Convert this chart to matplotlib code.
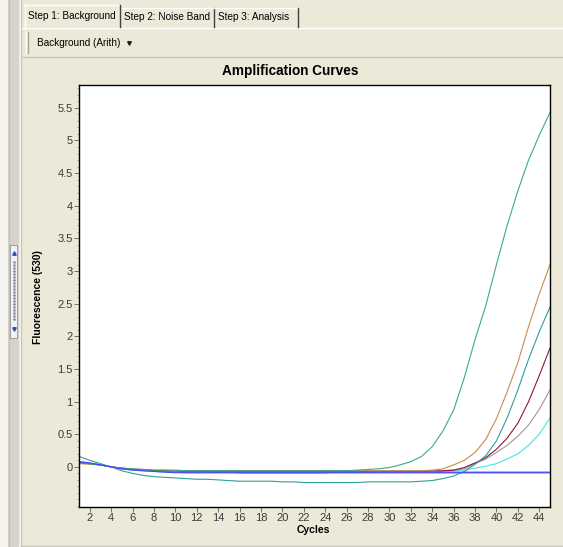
import matplotlib
matplotlib.use("Agg")
import matplotlib.pyplot as plt
from matplotlib.patches import Rectangle
from matplotlib.lines import Line2D

plt.rcParams['font.family'] = ['Liberation Sans', 'DejaVu Sans']

# ---------------- data ----------------
cycles = list(range(1, 46))

curve_a = [0.07, 0.05, 0.03, 0.00, -0.02, -0.03, -0.04, -0.05, -0.05, -0.05,
           -0.06, -0.06, -0.06, -0.06, -0.06, -0.06, -0.06, -0.06, -0.06, -0.06,
           -0.06, -0.06, -0.06, -0.06, -0.06, -0.06, -0.05, -0.04, -0.03, -0.01,
           0.03, 0.08, 0.16, 0.31, 0.55, 0.87, 1.37, 1.95, 2.47, 3.10,
           3.70, 4.23, 4.70, 5.08, 5.43]
curve_b = [0.16, 0.10, 0.05, 0.00, -0.06, -0.10, -0.13, -0.15, -0.16, -0.17,
           -0.18, -0.19, -0.19, -0.20, -0.21, -0.22, -0.22, -0.22, -0.22, -0.23,
           -0.23, -0.24, -0.24, -0.24, -0.24, -0.24, -0.24, -0.23, -0.23, -0.23,
           -0.23, -0.23, -0.22, -0.21, -0.18, -0.14, -0.07, 0.04, 0.17, 0.40,
           0.75, 1.18, 1.65, 2.07, 2.45]
curve_c = [0.05, 0.04, 0.03, 0.00, -0.02, -0.03, -0.04, -0.05, -0.05, -0.06,
           -0.06, -0.06, -0.06, -0.06, -0.06, -0.06, -0.06, -0.06, -0.06, -0.06,
           -0.06, -0.06, -0.06, -0.06, -0.06, -0.06, -0.06, -0.06, -0.06, -0.06,
           -0.06, -0.06, -0.06, -0.05, -0.03, 0.03, 0.10, 0.22, 0.42, 0.74,
           1.15, 1.60, 2.15, 2.65, 3.10]
curve_e = [0.06, 0.05, 0.03, 0.00, -0.02, -0.04, -0.05, -0.06, -0.06, -0.07,
           -0.07, -0.07, -0.07, -0.08, -0.08, -0.09, -0.09, -0.09, -0.09, -0.09,
           -0.09, -0.09, -0.09, -0.09, -0.08, -0.08, -0.08, -0.08, -0.07, -0.07,
           -0.07, -0.07, -0.07, -0.07, -0.06, -0.05, -0.01, 0.06, 0.14, 0.27,
           0.44, 0.67, 1.00, 1.40, 1.82]
curve_g = [0.06, 0.05, 0.03, 0.00, -0.02, -0.04, -0.05, -0.06, -0.06, -0.06,
           -0.07, -0.07, -0.07, -0.07, -0.07, -0.07, -0.07, -0.07, -0.07, -0.07,
           -0.07, -0.07, -0.07, -0.07, -0.07, -0.07, -0.07, -0.07, -0.07, -0.07,
           -0.07, -0.07, -0.07, -0.06, -0.06, -0.05, -0.03, 0.05, 0.12, 0.22,
           0.33, 0.47, 0.64, 0.88, 1.18]
curve_f = [0.06, 0.05, 0.03, 0.00, -0.02, -0.04, -0.05, -0.06, -0.07, -0.07,
           -0.07, -0.07, -0.07, -0.07, -0.07, -0.07, -0.07, -0.07, -0.07, -0.07,
           -0.07, -0.07, -0.07, -0.07, -0.07, -0.07, -0.07, -0.07, -0.07, -0.07,
           -0.07, -0.07, -0.07, -0.07, -0.07, -0.06, -0.05, -0.02, 0.01, 0.05,
           0.12, 0.20, 0.33, 0.50, 0.75]
flat_green = [0.07, 0.05, 0.03, 0.00, -0.03, -0.04, -0.05, -0.06, -0.07, -0.07,
              -0.07, -0.07, -0.07, -0.07, -0.07, -0.07, -0.07, -0.07, -0.07, -0.07,
              -0.07, -0.07, -0.07, -0.07, -0.07, -0.07, -0.07, -0.07, -0.07, -0.07,
              -0.07, -0.07, -0.07, -0.07, -0.08, -0.08, -0.08, -0.08, -0.08, -0.08,
              -0.08, -0.08, -0.08, -0.08, -0.08]
flat_purple = [0.08, 0.06, 0.03, 0.00, -0.03, -0.05, -0.06, -0.07, -0.08, -0.08,
               -0.09, -0.09, -0.09, -0.09, -0.09, -0.09, -0.09, -0.09, -0.09, -0.09,
               -0.09, -0.09, -0.09, -0.09, -0.09, -0.09, -0.09, -0.09, -0.09, -0.09,
               -0.09, -0.09, -0.09, -0.09, -0.09, -0.09, -0.09, -0.09, -0.09, -0.09,
               -0.09, -0.09, -0.09, -0.09, -0.09]
flat_blue = [0.08, 0.06, 0.03, 0.00, -0.03, -0.05, -0.06, -0.07, -0.08, -0.09,
             -0.09, -0.09, -0.09, -0.09, -0.09, -0.09, -0.09, -0.09, -0.09, -0.09,
             -0.09, -0.09, -0.09, -0.09, -0.09, -0.09, -0.09, -0.09, -0.09, -0.09,
             -0.09, -0.09, -0.09, -0.09, -0.09, -0.09, -0.09, -0.09, -0.09, -0.09,
             -0.09, -0.09, -0.09, -0.09, -0.09]

series = [
    (curve_f, '#40e6e6'),
    (curve_g, '#a89098'),
    (curve_e, '#8a1838'),
    (curve_c, '#c88a4e'),
    (curve_b, '#2f9f9c'),
    (curve_a, '#3aa896'),
    (flat_green, '#20a040'),
    (flat_purple, '#9a6cff'),
    (flat_blue, '#4646ff'),
]

y_ticks = [0, 0.5, 1, 1.5, 2, 2.5, 3, 3.5, 4, 4.5, 5, 5.5]
y_tick_labels = ['0', '0.5', '1', '1.5', '2', '2.5', '3', '3.5', '4', '4.5', '5', '5.5']
x_ticks = list(range(2, 45, 2))
x_tick_labels = [str(t) for t in x_ticks]

W, H = 563, 547
BG = '#ECE9D8'

fig = plt.figure(figsize=(W / 100, H / 100), dpi=100, facecolor=BG)

# ---------------- UI chrome ----------------
ui = fig.add_axes([0, 0, 1, 1], zorder=0)
ui.set_xlim(0, W)
ui.set_ylim(H, 0)
ui.axis('off')

def rect(x0, y0, w, h, fc, ec='none', lw=1.0, z=1):
    ui.add_patch(Rectangle((x0, y0), w, h, facecolor=fc, edgecolor=ec, linewidth=lw, zorder=z))

def line(xs, ys, c, lw=1.0, z=2):
    ui.add_line(Line2D(xs, ys, color=c, linewidth=lw, zorder=z))

# left strip
rect(0, 0, 8, H, '#F4F3EE')
rect(8, 0, 11, H, '#D6D3CA')
line([8.5, 8.5], [0, H], '#C4C1B8')
line([19.5, 19.5], [0, H], '#FFFFFF')
line([21, 21], [0, H], '#C8C5BC')
# slider
rect(10, 245, 7, 93, '#F2F2F6', ec='#9C9C9C', lw=0.7, z=3)
for yy in range(262, 322, 3):
    ui.plot([13.5], [yy], marker='s', ms=0.8, color='#8A8AA0', zorder=4)
ui.plot([13.5], [253], marker='^', ms=2.5, color='#3050C0', zorder=4)
ui.plot([13.5], [329], marker='v', ms=2.5, color='#3050C0', zorder=4)

# tabs
line([22, W], [27.5, 27.5], '#FFFFFF', lw=1.0)
rect(24, 4, 95, 24, BG, z=3)
line([24.5, 24.5], [4, 27], '#FFFFFF', z=4)
line([24.5, 119], [4.5, 4.5], '#FFFFFF', z=4)
line([119.5, 119.5], [5, 27], '#404040', z=4)
line([120, 213], [7.5, 7.5], '#FFFFFF')
line([213.5, 213.5], [8, 27], '#404040')
line([214, 297], [7.5, 7.5], '#FFFFFF')
line([297.5, 297.5], [8, 27], '#404040')
tab_font = dict(fontsize=7.2, color='#000000', va='center', ha='left', zorder=5)
ui.text(28, 16, 'Step 1: Background', **tab_font)
ui.text(124, 17, 'Step 2: Noise Band', **tab_font)
ui.text(218, 17, 'Step 3: Analysis', **tab_font)

# toolbar
line([26, 26], [32, 53], '#FFFFFF', lw=1.0)
line([27.5, 27.5], [32, 53], '#A8A595', lw=1.0)
ui.text(37, 43, 'Background (Arith)', fontsize=7.2, color='#000000', va='center', ha='left')
ui.plot([129], [43], marker='v', ms=2.6, color='#202020')
line([22, W], [56.5, 56.5], '#C8C5B8')
line([22, W], [545.5, 545.5], '#C8C5B8')

# ---------------- chart ----------------
x0, x1, y0, y1 = 79, 550, 85, 507
ax = fig.add_axes([x0 / W, 1 - y1 / H, (x1 - x0) / W, (y1 - y0) / H], zorder=2)
ax.set_facecolor('white')

for vals, col in series:
    ax.plot(cycles, vals, color=col, linewidth=0.8, solid_joinstyle='round')

ax.set_xlim(1, 45)
ax.set_ylim(-0.615, 5.85)
ax.set_xticks(x_ticks)
ax.set_xticklabels(x_tick_labels)
ax.set_yticks(y_ticks)
ax.set_yticklabels(y_tick_labels)
ax.set_yticks([v / 10 for v in range(-6, 59)], minor=True)
ax.tick_params(axis='both', which='major', direction='out', length=3.5, width=0.6,
               color='#606060', labelsize=8.0, labelcolor='#3a3a3a', pad=1.0)
ax.tick_params(axis='y', which='minor', direction='out', length=1.8, width=0.5, color='#808080')
for s in ax.spines.values():
    s.set_color('#000000')
    s.set_linewidth(1.0)

fig.text(290 / W, 1 - 71 / H, 'Amplification Curves', fontsize=9.8, fontweight='bold',
         ha='center', va='center', color='#000000')
fig.text(313 / W, 1 - 530 / H, 'Cycles', fontsize=7.5, fontweight='bold',
         ha='center', va='center', color='#000000')
fig.text(38 / W, 1 - 297 / H, 'Fluorescence (530)', fontsize=7.5, fontweight='bold',
         ha='center', va='center', rotation=90, color='#000000')

fig.savefig('out.png', dpi=100, facecolor=BG)
